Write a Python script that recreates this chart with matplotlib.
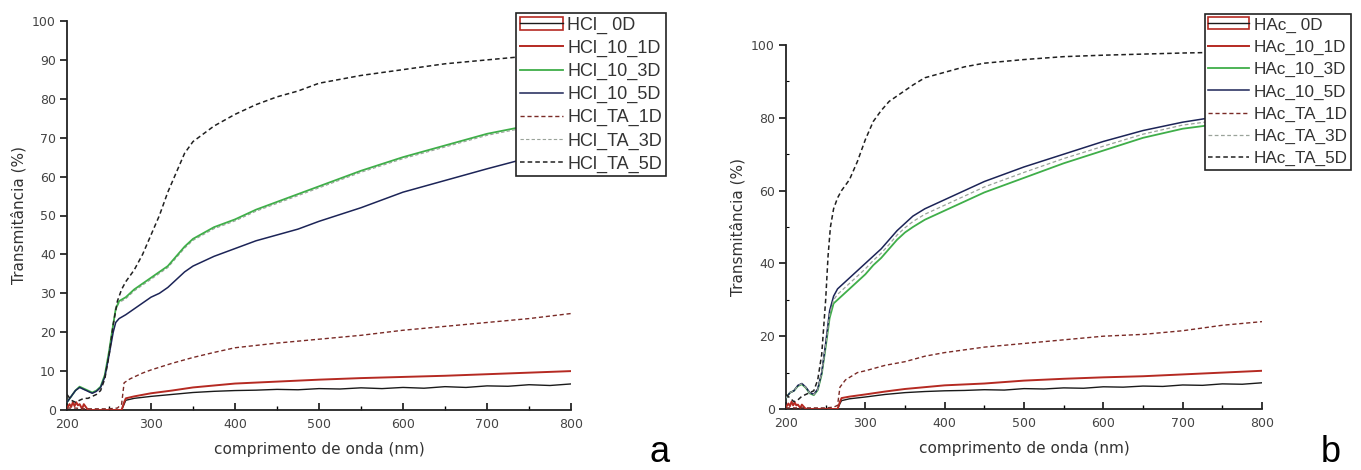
import matplotlib
matplotlib.use("Agg")
import matplotlib.pyplot as plt
from matplotlib.patches import Rectangle
from matplotlib.ticker import MultipleLocator, NullLocator

# ---------------- panel a (HCl) ----------------
a_wl_low = [200, 205, 210, 215, 220, 225, 230, 235, 240, 245, 250, 255, 258, 262,
            270, 280, 290, 300, 310, 320, 330, 340, 350, 375, 400, 425, 450, 475,
            500, 550, 600, 650, 700, 735, 770, 800]
a_10_3d = [2, 3.5, 5, 6, 5.5, 5, 4.5, 5, 6, 9, 15, 22, 26, 28,
           29, 31, 32.5, 34, 35.5, 37, 39.5, 42, 44, 47, 49, 51.5, 53.5, 55.5,
           57.5, 61.5, 65, 68, 71, 72.5, 74, 75]
a_10_5d = [2, 3.5, 5, 5.8, 5.3, 4.8, 4.3, 4.8, 5.8, 8.5, 14, 20, 22.5, 23.5,
           24.5, 26, 27.5, 29, 30, 31.5, 33.5, 35.5, 37, 39.5, 41.5, 43.5, 45, 46.5,
           48.5, 52, 56, 59, 62, 64, 65.5, 66.5]
a_ta_3d = [2, 3.4, 4.9, 5.8, 5.3, 4.8, 4.3, 4.8, 5.8, 8.8, 14.8, 21.7, 25.7, 27.6,
           28.6, 30.6, 32.1, 33.6, 35.1, 36.6, 39.1, 41.6, 43.6, 46.6, 48.6, 51.1, 53.1, 55.1,
           57.1, 61.1, 64.6, 67.6, 70.6, 72.1, 73.6, 74.6]

a_wl_5 = [200, 205, 210, 215, 220, 225, 230, 235, 240, 245, 250, 255, 260, 265,
          270, 280, 290, 300, 310, 320, 330, 340, 350, 375, 400, 425, 450, 475,
          500, 550, 600, 650, 700, 750, 800]
a_ta_5d = [4, 2.5, 2, 2.5, 3, 3, 3.5, 4, 5, 8, 14, 22, 28, 31,
           33, 36, 40, 45, 50, 56, 61, 66, 69, 73, 76, 78.5, 80.5, 82,
           84, 86, 87.5, 89, 90, 91, 91.5]

a_wl_1 = [200, 210, 220, 230, 240, 250, 260, 265, 268, 275, 290, 300, 325, 350,
          375, 400, 450, 500, 550, 600, 650, 700, 750, 800]
a_ta_1d = [0.5, 0.5, 0.3, 0.3, 0.3, 0.3, 0.5, 1.5, 7, 8, 9.5, 10.3, 12, 13.5,
           14.8, 16, 17.2, 18.2, 19.2, 20.5, 21.5, 22.5, 23.5, 24.8]

a_wl_0 = [200, 265, 268, 270, 280, 300, 325, 350, 375, 400, 425, 450, 475, 500,
          525, 550, 575, 600, 625, 650, 675, 700, 725, 750, 775, 800]
a_0d = [0, 0, 1.5, 2.5, 3, 3.5, 4, 4.5, 4.8, 5, 5.1, 5.3, 5.2, 5.5,
        5.4, 5.7, 5.5, 5.8, 5.6, 6, 5.8, 6.2, 6.1, 6.5, 6.3, 6.7]

a_wl_r = [200, 203, 205, 207, 209, 211, 213, 215, 218, 220, 225, 240, 260, 265,
          268, 270, 280, 300, 325, 350, 375, 400, 450, 500, 550, 600, 650, 700,
          750, 800]
a_10_1d = [0.5, 1.5, 0.8, 2, 1, 2, 1.2, 1.5, 0.3, 1.5, 0, 0, 0, 0,
           2, 3, 3.5, 4.3, 5, 5.8, 6.3, 6.8, 7.3, 7.8, 8.2, 8.5, 8.8, 9.2,
           9.6, 10]

# ---------------- panel b (HAc) ----------------
b_wl_low = [200, 205, 210, 215, 220, 225, 230, 235, 240, 245, 250, 255, 260, 265,
            270, 280, 290, 300, 310, 320, 330, 340, 350, 360, 375, 400, 425, 450,
            475, 500, 550, 600, 650, 700, 735, 770, 800]
b_10_5d = [3, 4.5, 5, 6.5, 7, 6, 4.5, 4, 5.5, 10, 18, 27, 31, 33,
           34, 36, 38, 40, 42, 44, 46.5, 49, 51, 53, 55, 57.5, 60, 62.5,
           64.5, 66.5, 70, 73.5, 76.5, 78.8, 80, 81, 81.5]
b_10_3d = [3, 4.5, 5, 6.3, 6.8, 5.8, 4.3, 3.8, 5.2, 9.5, 17, 25, 29, 30,
           31, 33, 35, 37, 39.5, 41.5, 44, 46.5, 48.5, 50, 52, 54.5, 57, 59.5,
           61.5, 63.5, 67.5, 71, 74.5, 77, 78, 79, 79.5]
b_ta_3d = [3, 4.5, 5, 6.4, 6.9, 5.9, 4.4, 3.9, 5.3, 9.8, 17.5, 26, 30, 31.5,
           32.5, 34.5, 36.5, 38.5, 40.8, 42.8, 45.2, 47.8, 49.8, 51.5, 53.5, 56, 58.5, 61,
           63, 65, 68.8, 72.2, 75.5, 78, 79, 80, 80.5]

b_wl_5 = [200, 205, 210, 215, 220, 225, 230, 235, 240, 245, 250, 253, 256, 260,
          265, 270, 280, 290, 300, 310, 320, 330, 340, 350, 360, 375, 400, 425,
          450, 475, 500, 550, 600, 650, 700, 750, 800]
b_ta_5d = [4, 3, 2, 2.5, 3.5, 4, 4.5, 5, 8, 15, 30, 42, 50, 55,
           58, 60, 63, 68, 74, 79, 82, 84.5, 86, 87.5, 89, 91, 92.5, 94,
           95, 95.5, 96, 96.8, 97.2, 97.5, 97.8, 98, 98.3]

b_wl_1 = [200, 210, 220, 230, 240, 250, 260, 265, 268, 275, 290, 300, 325, 350,
          375, 400, 450, 500, 550, 600, 650, 700, 750, 800]
b_ta_1d = [0.3, 0.3, 0.3, 0.3, 0.3, 0.3, 0.5, 1, 6, 8, 10, 10.5, 12, 13,
           14.5, 15.5, 17, 18, 19, 20, 20.5, 21.5, 23, 24]

b_wl_0 = [200, 265, 268, 270, 280, 300, 325, 350, 375, 400, 425, 450, 475, 500,
          525, 550, 575, 600, 625, 650, 675, 700, 725, 750, 775, 800]
b_0d = [0, 0, 1.5, 2.3, 2.8, 3.3, 4, 4.5, 4.8, 5, 5.1, 5.3, 5.2, 5.6,
        5.5, 5.8, 5.7, 6.1, 6, 6.3, 6.2, 6.6, 6.5, 6.9, 6.8, 7.2]

b_wl_r = [200, 203, 205, 207, 209, 211, 213, 215, 218, 220, 225, 240, 260, 265,
          268, 270, 280, 300, 325, 350, 375, 400, 450, 500, 550, 600, 650, 700,
          750, 800]
b_10_1d = [0.5, 1.5, 0.8, 2, 1, 1.8, 1, 1.2, 0.3, 1.2, 0, 0, 0, 0,
           2, 3, 3.4, 4, 4.8, 5.5, 6, 6.5, 7, 7.8, 8.3, 8.7, 9, 9.5,
           10, 10.5]

a_labels = ["HCl_ 0D", "HCl_10_1D", "HCl_10_3D", "HCl_10_5D",
            "HCl_TA_1D", "HCl_TA_3D", "HCl_TA_5D"]
b_labels = ["HAc_ 0D", "HAc_10_1D", "HAc_10_3D", "HAc_10_5D",
            "HAc_TA_1D", "HAc_TA_3D", "HAc_TA_5D"]

C_BLACK = "#1a1a1a"
C_RED = "#b52a22"
C_GREEN = "#3fae49"
C_NAVY = "#1c2457"
C_TA1 = "#7a2a26"
C_TA3 = "#9aa39a"
C_TA5 = "#202020"
DASH = (0, (3, 2))


def draw_panel(ax, fig, series, labels, y_major, y_minor, leg_xy, leg_size, leg_gap):
    """Plot one panel: series is list of (x, y, color, style, lw, z)"""
    lines = []
    for x, y, color, style, lw, z in series:
        (ln,) = ax.plot(x, y, color=color, linestyle=style, linewidth=lw, zorder=z)
        lines.append(ln)

    ax.set_xlim(200, 800)
    ax.set_ylim(0, 100)
    for side in ("top", "right"):
        ax.spines[side].set_visible(False)
    for side in ("left", "bottom"):
        ax.spines[side].set_linewidth(1.3)
        ax.spines[side].set_color("#222222")

    ax.xaxis.set_major_locator(MultipleLocator(100))
    ax.xaxis.set_minor_locator(MultipleLocator(50))
    ax.yaxis.set_major_locator(MultipleLocator(y_major))
    if y_minor:
        ax.yaxis.set_minor_locator(MultipleLocator(y_minor))
    else:
        ax.yaxis.set_minor_locator(NullLocator())
    ax.tick_params(axis="x", which="major", direction="in", length=5, width=1.1,
                   labelsize=9, labelcolor="#444444", pad=6)
    ax.tick_params(axis="x", which="minor", direction="in", length=3, width=1.0)
    ax.tick_params(axis="y", which="major", direction="out", length=5, width=1.1,
                   labelsize=9, labelcolor="#444444", pad=3)
    ax.tick_params(axis="y", which="minor", direction="in", length=2.5, width=0.8)

    ax.set_xlabel("comprimento de onda (nm)", fontsize=11, color="#333333",
                  labelpad=8)
    ax.set_ylabel("Transmitância (%)", fontsize=11, color="#333333", labelpad=4)

    # 0D entry shown as black line inside a red box, like the original legend
    box = Rectangle((0, 0), 1, 1, facecolor="none", edgecolor=C_RED, linewidth=1.2)
    handles = [(box, lines[0])] + lines[1:]
    leg = ax.legend(handles, labels, loc="upper left",
                    bbox_to_anchor=leg_xy, bbox_transform=fig.transFigure,
                    prop={"family": "Liberation Sans", "size": leg_size},
                    frameon=True, fancybox=False, framealpha=1,
                    edgecolor="#222222", borderpad=0.2, labelspacing=leg_gap,
                    handlelength=2.4, handletextpad=0.25, borderaxespad=0)
    leg.get_frame().set_linewidth(1.2)
    for t in leg.get_texts():
        t.set_color("#333333")
    leg.set_zorder(10)


def main():
    fig = plt.figure(figsize=(13.61, 4.70), dpi=100)
    ax_a = fig.add_axes([67 / 1361, 60 / 470, 504 / 1361, 389 / 470])
    ax_b = fig.add_axes([786 / 1361, 61 / 470, 476 / 1361, 364 / 470])

    series_a = [
        (a_wl_0, a_0d, C_BLACK, "-", 1.0, 3),
        (a_wl_r, a_10_1d, C_RED, "-", 1.4, 3),
        (a_wl_low, a_10_3d, C_GREEN, "-", 1.3, 3),
        (a_wl_low, a_10_5d, C_NAVY, "-", 1.1, 3),
        (a_wl_1, a_ta_1d, C_TA1, DASH, 1.0, 3),
        (a_wl_low, a_ta_3d, C_TA3, DASH, 0.8, 2),
        (a_wl_5, a_ta_5d, C_TA5, DASH, 1.1, 3),
    ]
    series_b = [
        (b_wl_0, b_0d, C_BLACK, "-", 1.0, 3),
        (b_wl_r, b_10_1d, C_RED, "-", 1.4, 3),
        (b_wl_low, b_10_3d, C_GREEN, "-", 1.3, 3),
        (b_wl_low, b_10_5d, C_NAVY, "-", 1.1, 3),
        (b_wl_1, b_ta_1d, C_TA1, DASH, 1.0, 3),
        (b_wl_low, b_ta_3d, C_TA3, DASH, 0.9, 3),
        (b_wl_5, b_ta_5d, C_TA5, DASH, 1.1, 3),
    ]

    draw_panel(ax_a, fig, series_a, a_labels, 10, None,
               (516 / 1361, 1 - 13 / 470), 13, 0.33)
    draw_panel(ax_b, fig, series_b, b_labels, 20, 10,
               (1205 / 1361, 1 - 14 / 470), 12.3, 0.42)

    fig.text(660 / 1361, 1 - 452 / 470, "a", fontsize=26, ha="center",
             va="center", family="Liberation Sans")
    fig.text(1331 / 1361, 1 - 452 / 470, "b", fontsize=26, ha="center",
             va="center", family="Liberation Sans")

    fig.savefig("out.png", dpi=100)


if __name__ == "__main__":
    main()
